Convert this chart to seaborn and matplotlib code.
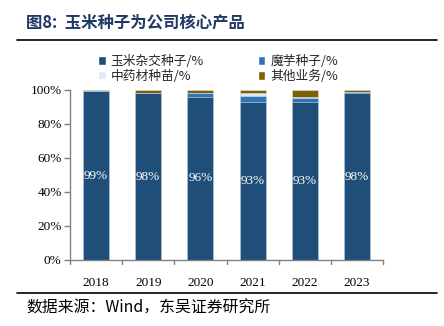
import matplotlib
matplotlib.use("Agg")
import matplotlib.pyplot as plt
import seaborn as sns
import numpy as np
import pandas as pd
from matplotlib.patches import Patch
from matplotlib.lines import Line2D

years = ["2018", "2019", "2020", "2021", "2022", "2023"]
corn = [99.4, 98.0, 96.0, 93.0, 93.0, 98.0]
konjac = [0.0, 0.0, 2.3, 3.5, 2.2, 0.8]
medicine = [0.0, 0.0, 0.0, 2.0, 0.4, 0.3]
other = [0.4, 2.0, 1.7, 1.3, 4.2, 0.9]
labels = ["99%", "98%", "96%", "93%", "93%", "98%"]
series_names = ["玉米杂交种子/%", "魔芋种子/%", "中药材种苗/%", "其他业务/%"]
colors = ["#1F4E79", "#2E75B6", "#DEEBF7", "#7F6000"]

sns.set_theme(style="white")
plt.rcParams["font.family"] = ["Liberation Serif", "Noto Sans CJK SC", "DejaVu Sans"]

fig = plt.figure(figsize=(4.44, 3.26), dpi=100)
ax = fig.add_axes([70/444, 1-260/326, (383-70)/444, (260-90)/326])

df = pd.DataFrame({"year": years, "corn": corn, "konjac": konjac,
                   "medicine": medicine, "other": other})
layers = [df["corn"], df["konjac"], df["medicine"], df["other"]]
cum = np.cumsum(np.array(layers), axis=0)
for i in range(3, -1, -1):
    sns.barplot(x=df["year"], y=cum[i], color=colors[i], width=0.5,
                edgecolor="#D9E2EC", linewidth=0.4, saturation=1, ax=ax)

for i, lab in enumerate(labels):
    ax.text(i, corn[i] / 2, lab, ha="center", va="center", color="white",
            fontsize=9.5, family=["Liberation Serif"])

ax.set_ylim(0, 100)
ax.set_xlim(-0.5, 5.5)
ax.set_yticks(np.arange(0, 101, 20))
ax.set_yticklabels([f"{v}%" for v in range(0, 101, 20)], fontsize=9.5)
ax.set_xticks(range(6))
ax.set_xticklabels(years, fontsize=9.5)
ax.set_xlabel("")
ax.set_ylabel("")
for s in ["top", "right"]:
    ax.spines[s].set_visible(False)
for s in ["left", "bottom"]:
    ax.spines[s].set_color("#808080")
    ax.spines[s].set_linewidth(1.0)
ax.tick_params(axis="y", left=True, length=4, width=1, color="#808080", pad=2, labelcolor="#000000")
ax.tick_params(axis="x", bottom=False, pad=6, labelcolor="#000000")
for xb in np.arange(-0.5, 6.0, 1.0):
    ax.plot([xb, xb], [0, -2.5], color="#808080", lw=1, clip_on=False)

handles = [Patch(facecolor=colors[0]), Patch(facecolor=colors[2]),
           Patch(facecolor=colors[1]), Patch(facecolor=colors[3])]
names = [series_names[0], series_names[2], series_names[1], series_names[3]]
leg = fig.legend(handles, names, ncol=2, loc="center", bbox_to_anchor=(218/444, 1-69/326),
                 frameon=False, handlelength=0.6, handleheight=0.6,
                 handletextpad=0.4, columnspacing=4.2, labelspacing=0.15,
                 prop={"family": ["Noto Sans CJK SC"], "size": 9.2})

fig.text(26/444, 1-23/326, "图8:  玉米种子为公司核心产品", fontsize=11.8, fontweight="bold",
         color="#1F3864", va="center", ha="left", family=["Noto Sans CJK SC"])
fig.add_artist(Line2D([17/444, 437/444], [1-40/326, 1-40/326], color="black", lw=1.2))
fig.add_artist(Line2D([17/444, 437/444], [1-293/326, 1-293/326], color="black", lw=1.2))
fig.text(26/444, 1-308/326, "数据来源：Wind，东吴证券研究所", fontsize=11.4,
         color="black", va="center", ha="left", family=["Noto Sans CJK SC"])

fig.savefig("out.png", dpi=100)
